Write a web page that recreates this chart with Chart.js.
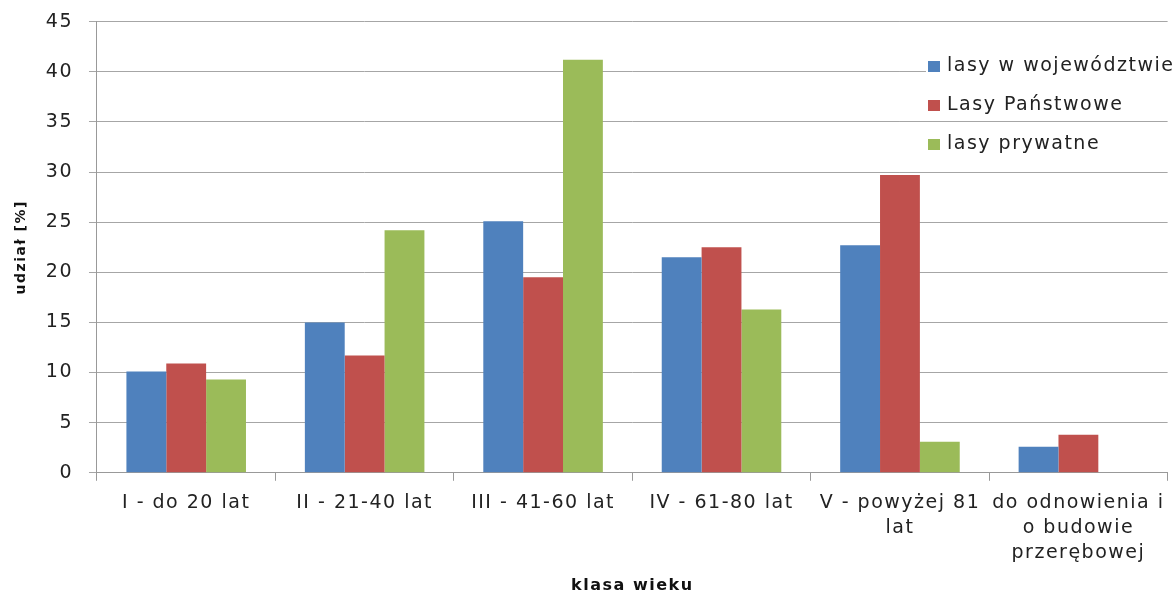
<!DOCTYPE html>
<html>
<head>
<meta charset="utf-8">
<script src="https://cdn.jsdelivr.net/npm/chart.js@4"></script>
<style>
  html, body { margin: 0; padding: 0; background: #fff; }
  #wrap { width: 1175px; height: 595px; }
</style>
</head>
<body>
<div id="wrap"><canvas id="canvas"></canvas></div>
<script>
// klasy wieku
var categories = [
    'I - do 20 lat',
    'II - 21-40 lat',
    'III - 41-60 lat',
    'IV - 61-80 lat',
    ['V - powyżej 81', 'lat'],
    ['do odnowienia i', 'o budowie', 'przerębowej']
];
var seriesNames = ['lasy w województwie', 'Lasy Państwowe', 'lasy prywatne'];
var wojewodztwo = [10.1, 15.0, 25.1, 21.5, 22.7, 2.6];
var lasyPanstwowe = [10.9, 11.7, 19.5, 22.5, 29.7, 3.8];
var prywatne = [9.3, 24.2, 41.2, 16.3, 3.1, 0];
var colors = ['#4F81BD', '#C0504D', '#9BBB59'];

var FONT = 'DejaVu Sans';
var SPACING = '1.5px';

// szerszy tekst, jak w oryginale
var wideText = {
    id: 'wideText',
    beforeLayout: function(chart) { chart.ctx.letterSpacing = SPACING; },
    beforeDraw: function(chart) { chart.ctx.letterSpacing = SPACING; }
};

// legenda rysowana na obszarze wykresu (jak w Excelu)
var overlayLegend = {
    id: 'overlayLegend',
    afterDraw: function(chart) {
        var ctx = chart.ctx;
        var x = 928, y0 = 66, gap = 39;
        ctx.save();
        ctx.letterSpacing = SPACING;
        ctx.font = '19px "' + FONT + '"';
        ctx.textBaseline = 'middle';
        chart.data.datasets.forEach(function(ds, i) {
            var y = y0 + i * gap;
            var w = ctx.measureText(ds.label).width;
            ctx.fillStyle = '#fff';
            ctx.fillRect(x - 2, y - 11, w + 24, 22);
            ctx.fillStyle = ds.backgroundColor;
            ctx.fillRect(x, y - 5, 12, 11);
            ctx.fillStyle = '#222';
            ctx.fillText(ds.label, x + 19, y);
        });
        ctx.restore();
    }
};

var config = {
    type: 'bar',
    data: {
        labels: categories,
        datasets: [
            { label: seriesNames[0], backgroundColor: colors[0], data: wojewodztwo },
            { label: seriesNames[1], backgroundColor: colors[1], data: lasyPanstwowe },
            { label: seriesNames[2], backgroundColor: colors[2], data: prywatne }
        ]
    },
    options: {
        responsive: true,
        maintainAspectRatio: false,
        animation: false,
        layout: { padding: { top: 6, right: 5, left: 10, bottom: 0 } },
        datasets: {
            bar: { categoryPercentage: 0.67, barPercentage: 1.0, borderWidth: 0 }
        },
        plugins: {
            legend: { display: false },
            tooltip: { enabled: false }
        },
        scales: {
            x: {
                grid: { display: true, drawOnChartArea: false, color: '#999', tickLength: 8, offset: true },
                border: { color: '#999' },
                ticks: {
                    color: '#222', maxRotation: 0, autoSkip: false, padding: 10,
                    font: { family: FONT, size: 19, lineHeight: 1.316 }
                },
                title: {
                    display: true, text: 'klasa wieku', color: '#111',
                    font: { family: FONT, size: 16, weight: 'bold' }, padding: { top: 0, bottom: 0 }
                }
            },
            y: {
                min: 0, max: 45,
                grid: { color: '#a6a6a6', tickLength: 8 },
                border: { color: '#999' },
                ticks: {
                    stepSize: 5, color: '#222', padding: 16,
                    // small lineHeight only shrinks the reserved space above "45"
                    font: { family: FONT, size: 19, lineHeight: 0.6 }
                },
                title: {
                    display: true, text: 'udział [%]', color: '#111',
                    font: { family: FONT, size: 14, weight: 'bold' }, padding: { top: 3, bottom: 0 }
                }
            }
        }
    },
    plugins: [wideText, overlayLegend]
};

window.addEventListener('load', function() {
    var ctx = document.getElementById('canvas').getContext('2d');
    window.BarChart = new Chart(ctx, config);
});
</script>
</body>
</html>
